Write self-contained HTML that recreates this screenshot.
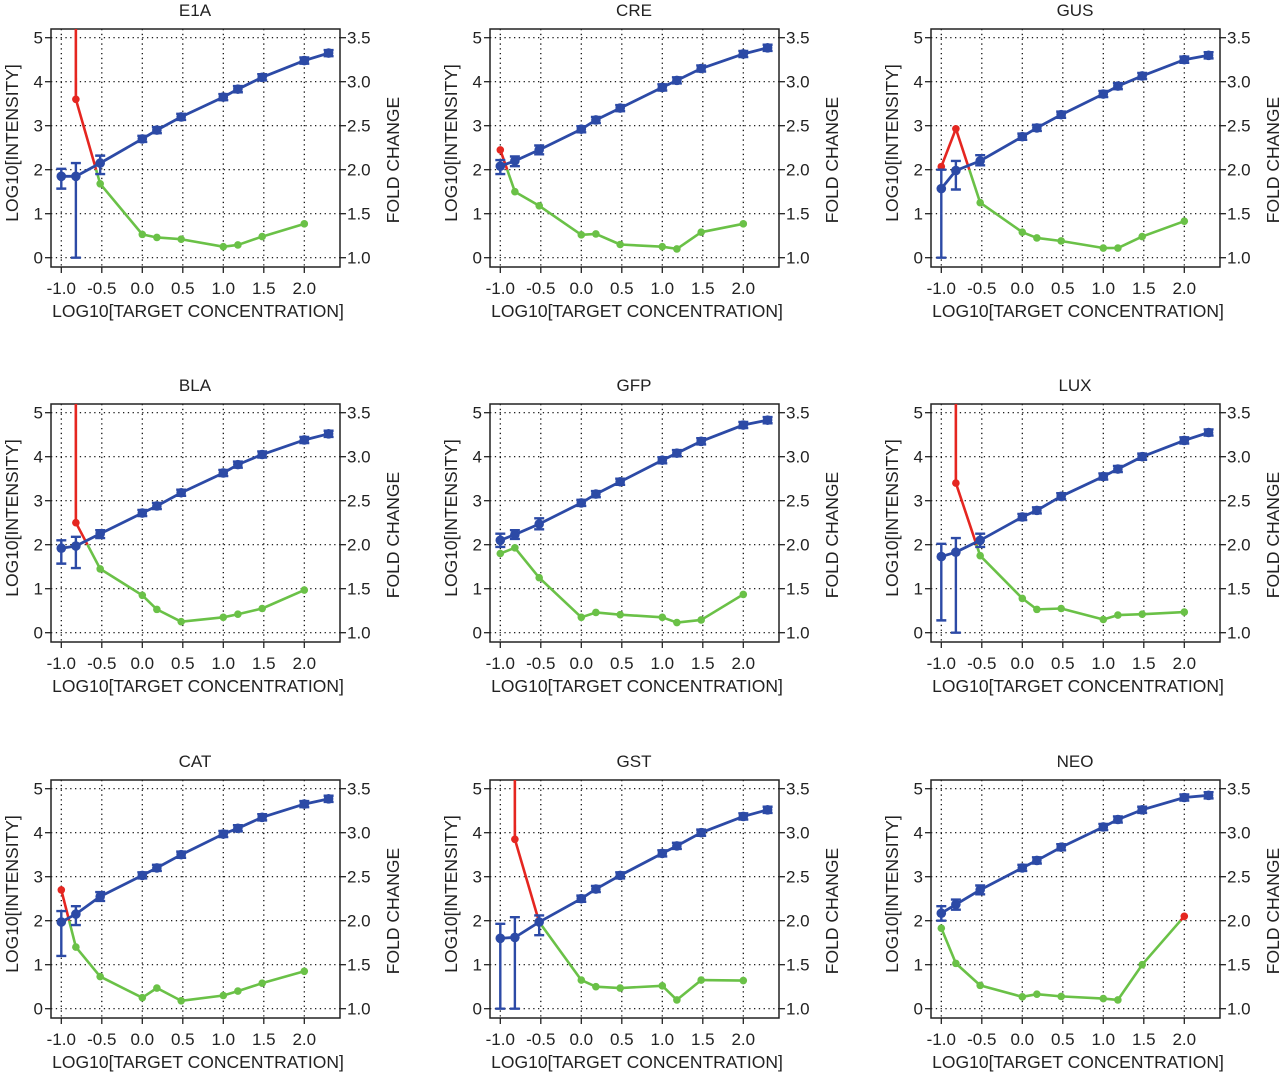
<!DOCTYPE html>
<html><head><meta charset="utf-8">
<style>
body{margin:0;background:#fff;}
svg{display:block;font-family:"Liberation Sans",Arial,sans-serif;}
</style></head>
<body>
<svg id="chart" width="1280" height="1075" viewBox="0 0 1280 1075"></svg>
<script>
const xTicks=[-1.0,-0.5,0.0,0.5,1.0,1.5,2.0];
const yTicks=[0,1,2,3,4,5];
const foldTicks=[1.0,1.5,2.0,2.5,3.0,3.5];
const blueX=[-1,-0.82,-0.52,0,0.18,0.48,1,1.18,1.48,2,2.3];
const foldX=[-1,-0.82,-0.52,0,0.18,0.48,1,1.18,1.48,2];
const titles=["E1A","CRE","GUS","BLA","GFP","LUX","CAT","GST","NEO"];
const blueE1A=[1.85,1.85,2.15,2.7,2.9,3.2,3.65,3.83,4.1,4.48,4.65];
const blueCRE=[2.08,2.2,2.45,2.92,3.13,3.4,3.87,4.03,4.3,4.63,4.77];
const blueGUS=[1.57,1.98,2.2,2.75,2.95,3.25,3.72,3.9,4.13,4.5,4.6];
const blueBLA=[1.92,1.97,2.25,2.72,2.88,3.18,3.63,3.82,4.05,4.38,4.52];
const blueGFP=[2.1,2.23,2.47,2.95,3.15,3.43,3.92,4.08,4.35,4.72,4.83];
const blueLUX=[1.73,1.83,2.1,2.63,2.78,3.1,3.55,3.72,4.0,4.37,4.55];
const blueCAT=[1.97,2.15,2.55,3.03,3.2,3.5,3.97,4.1,4.35,4.65,4.77];
const blueGST=[1.6,1.62,1.97,2.5,2.72,3.03,3.53,3.7,4.0,4.37,4.52];
const blueNEO=[2.17,2.37,2.7,3.2,3.37,3.67,4.13,4.3,4.52,4.8,4.85];
const errLoE1A=[1.57,0,1.9], errHiE1A=[2.02,2.15,2.32];
const errLoCRE=[1.9,2.08,2.35], errHiCRE=[2.22,2.3,2.55];
const errLoGUS=[0,1.55,2.1], errHiGUS=[2.0,2.2,2.33];
const errLoBLA=[1.57,1.47,2.15], errHiBLA=[2.1,2.18,2.33];
const errLoGFP=[1.95,2.13,2.35], errHiGFP=[2.25,2.33,2.6];
const errLoLUX=[0.28,0,1.95], errHiLUX=[2.02,2.15,2.25];
const errLoCAT=[1.2,1.9,2.45], errHiCAT=[2.22,2.33,2.65];
const errLoGST=[0,0,1.67], errHiGST=[1.93,2.08,2.12];
const errLoNEO=[2.0,2.25,2.6], errHiNEO=[2.33,2.48,2.8];
const foldE1A=[500,2.8,1.84,1.265,1.23,1.21,1.125,1.145,1.24,1.385];
const foldCRE=[2.225,1.75,1.59,1.26,1.27,1.15,1.125,1.1,1.29,1.385];
const foldGUS=[2.035,2.465,1.625,1.29,1.225,1.19,1.11,1.11,1.24,1.415];
const foldBLA=[500,2.25,1.725,1.425,1.265,1.125,1.175,1.21,1.275,1.485];
const foldGFP=[1.9,1.965,1.625,1.175,1.23,1.205,1.175,1.115,1.145,1.435];
const foldLUX=[500,2.7,1.875,1.39,1.265,1.275,1.15,1.2,1.21,1.235];
const foldCAT=[2.35,1.7,1.365,1.125,1.235,1.09,1.15,1.2,1.29,1.425];
const foldGST=[500,2.925,1.985,1.325,1.25,1.235,1.26,1.1,1.325,1.32];
const foldNEO=[1.915,1.515,1.265,1.135,1.165,1.14,1.115,1.1,1.5,2.05];
const blues=[blueE1A,blueCRE,blueGUS,blueBLA,blueGFP,blueLUX,blueCAT,blueGST,blueNEO];
const errLos=[errLoE1A,errLoCRE,errLoGUS,errLoBLA,errLoGFP,errLoLUX,errLoCAT,errLoGST,errLoNEO];
const errHis=[errHiE1A,errHiCRE,errHiGUS,errHiBLA,errHiGFP,errHiLUX,errHiCAT,errHiGST,errHiNEO];
const folds=[foldE1A,foldCRE,foldGUS,foldBLA,foldGFP,foldLUX,foldCAT,foldGST,foldNEO];

const NS="http://www.w3.org/2000/svg";
const svg=document.getElementById('chart');
const BLUE="#2c4aa6",GREEN="#6ac147",RED="#e52620";
function mk(tag,attrs,parent){const e=document.createElementNS(NS,tag);for(const k in attrs)e.setAttribute(k,attrs[k]);(parent||svg).appendChild(e);return e;}
const colOff=[0,439,880], rowOff=[0,375,751];

for(let p=0;p<9;p++){
  const ox=colOff[p%3], oy=rowOff[Math.floor(p/3)];
  const g=mk('g',{transform:`translate(${ox},${oy})`});
  
  
  const X=v=>61.3+81*(v+1);
  const Y=v=>257.7-44*v;
  const F=f=>Y((f-1)*2);
  const L=51,R=340,T=29,B=267;
  // clip
  const cp=mk('clipPath',{id:'cp'+p},g);mk('rect',{x:L,y:T,width:R-L,height:B-T},cp);
  // grid
  xTicks.forEach(t=>{const l=mk('line',{x1:X(t),x2:X(t),y1:T,y2:B,stroke:'#000','stroke-width':1.2,'stroke-dasharray':'1.3,3.5'},g);
    });
  yTicks.forEach(t=>{const l=mk('line',{x1:L,x2:R,y1:Y(t),y2:Y(t),stroke:'#000','stroke-width':1.2,'stroke-dasharray':'1.3,3.5'},g);
    });
  // box
  const box=mk('rect',{x:L,y:T,width:R-L,height:B-T,fill:'none',stroke:'#222','stroke-width':1.5},g);
  
  // ticks & labels
  xTicks.forEach(t=>{mk('line',{x1:X(t),x2:X(t),y1:B,y2:B+6,stroke:'#222','stroke-width':1.3},g);
    const tx=mk('text',{x:X(t),y:B+27,'text-anchor':'middle','font-size':17,fill:'#222'},g);tx.textContent=t.toFixed(1);
    });
  yTicks.forEach(t=>{mk('line',{x1:L-6,x2:L,y1:Y(t),y2:Y(t),stroke:'#222','stroke-width':1.3},g);
    const tx=mk('text',{x:L-8,y:Y(t)+6,'text-anchor':'end','font-size':17,fill:'#222'},g);tx.textContent=String(t);
    });
  foldTicks.forEach(t=>{mk('line',{x1:R,x2:R+6,y1:F(t),y2:F(t),stroke:'#222','stroke-width':1.3},g);
    const tx=mk('text',{x:R+7,y:F(t)+6,'font-size':17,fill:'#222'},g);tx.textContent=t.toFixed(1);
    });
  const ti=mk('text',{x:195,y:16,'text-anchor':'middle','font-size':17,fill:'#222'},g);ti.textContent=titles[p];
  
  const xt=mk('text',{x:198,y:317,'text-anchor':'middle','font-size':17.5,fill:'#222'},g);xt.textContent='LOG10[TARGET CONCENTRATION]';
  
  const yt=mk('text',{x:0,y:0,'text-anchor':'middle','font-size':17.5,fill:'#222',transform:'translate(18,143) rotate(-90)'},g);yt.textContent='LOG10[INTENSITY]';
  
  const rt=mk('text',{x:0,y:0,'text-anchor':'middle','font-size':17.5,fill:'#222',transform:'translate(399,160) rotate(-90)'},g);rt.textContent='FOLD CHANGE';
  

  const cg=mk('g',{'clip-path':`url(#cp${p})`},g);
  // fold segments
  const fv=folds[p];
  for(let i=0;i<fv.length-1;i++){
    const a=fv[i],b=fv[i+1],xa=foldX[i],xb=foldX[i+1];
    const seg=(x1,y1,x2,y2,c)=>{const l=mk('line',{x1:X(x1),y1:F(y1),x2:X(x2),y2:F(y2),stroke:c,'stroke-width':2.6},cg);
      };
    if(a<=2&&b<=2)seg(xa,a,xb,b,GREEN);
    else if(a>2&&b>2)seg(xa,a,xb,b,RED);
    else{const t=(2-a)/(b-a);const xc=xa+t*(xb-xa);
      seg(xa,a,xc,2,a>2?RED:GREEN);seg(xc,2,xb,b,b>2?RED:GREEN);}
  }
  fv.forEach((v,i)=>{if(v>3.6)return;const c=mk('circle',{cx:X(foldX[i]),cy:F(v),r:3.8,fill:v>2?RED:GREEN},cg);
    });
  // blue
  const bv=blues[p];
  const pl=mk('polyline',{points:bv.map((v,i)=>X(blueX[i])+','+Y(v)).join(' '),fill:'none',stroke:BLUE,'stroke-width':2.8},cg);
  
  bv.forEach((v,i)=>{
    const lo=i<3?errLos[p][i]:v-0.07, hi=i<3?errHis[p][i]:v+0.07;
    const x=X(blueX[i]);
    const e=mk('path',{d:`M${x},${Y(lo)}V${Y(hi)}M${x-5},${Y(lo)}H${x+5}M${x-5},${Y(hi)}H${x+5}`,stroke:BLUE,'stroke-width':2.4,fill:'none'},cg);
    
    const c=mk('circle',{cx:x,cy:Y(v),r:4.8,fill:BLUE},cg);
    
  });
}
</script>
</body></html>
